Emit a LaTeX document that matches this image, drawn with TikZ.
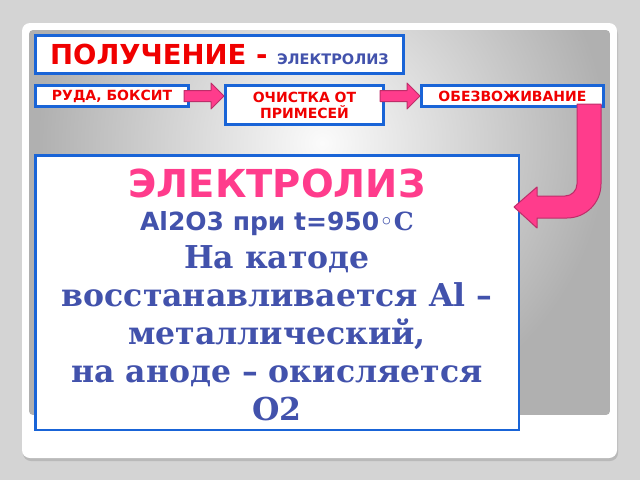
\documentclass[tikz,border=0pt]{standalone}
\usepackage{fontspec}
\setmainfont{DejaVu Serif}
\setsansfont{DejaVu Sans}
\usetikzlibrary{calc}
\usetikzlibrary{positioning}
\definecolor{boxblue}{RGB}{25,100,215}
\definecolor{titlered}{RGB}{240,0,0}
\definecolor{textblue}{RGB}{66,82,172}
\definecolor{arrowpink}{RGB}{255,60,140}
\definecolor{arrowrim}{RGB}{190,45,105}
\definecolor{backgray}{RGB}{212,212,212}
\tikzset{
  stepbox/.style={draw=boxblue, line width=3pt, fill=white, inner sep=0pt,
    font=\sffamily\bfseries\fontsize{14}{16}\selectfont, text=titlered, align=center},
  fatarrow/.style={fill=arrowpink, draw=arrowrim, line width=1pt, line join=round}
}
\newcommand{\pinkarrow}[2]{%
  \draw[fatarrow] let \p1=(#1), \p2=(#2) in
    (\x1,\y1-5.5pt) -- (\x2-13pt,\y1-5.5pt) -- (\x2-13pt,\y1-13pt) -- (\x2,\y1)
    -- (\x2-13pt,\y1+13pt) -- (\x2-13pt,\y1+5.5pt) -- (\x1,\y1+5.5pt) -- cycle;}

\begin{document}
\begin{tikzpicture}[x=1pt, y=-1pt]
    \useasboundingbox (0,0) rectangle (640,480);
    \fill[backgray] (0,0) rectangle (640,480);
    % card and shaded panel
    \fill[gray!55, rounded corners=8pt] (23,26) rectangle (618,461);
    \fill[white, rounded corners=8pt] (22,23) rectangle (617,458);
    \begin{scope}
        \clip[rounded corners=4pt] (29,30) rectangle (610,415);
        \fill[gray!62] (29,30) rectangle (610,415);
        \shade[inner color=gray!3, outer color=gray!62] (322,143) circle (285pt);
    \end{scope}

    \node[stepbox, anchor=north west, minimum width=368pt, minimum height=38pt] (title) at (34,34)
        {{\fontsize{27.5}{30}\selectfont ПОЛУЧЕНИЕ - }{\color{textblue}\fontsize{14.5}{16}\selectfont ЭЛЕКТРОЛИЗ}};
    \node[stepbox, below=9pt of title.south west, anchor=north west,
        minimum width=153pt, minimum height=21pt] (ruda) {РУДА, БОКСИТ};
    \node[stepbox, right=34pt of ruda.north east, anchor=north west,
        minimum width=158pt, minimum height=39pt] (ochistka) {ОЧИСТКА ОТ\\ПРИМЕСЕЙ};
    \node[stepbox, right=35pt of ochistka.north east, anchor=north west,
        minimum width=182pt, minimum height=21pt] (obez) {ОБЕЗВОЖИВАНИЕ};
    \node[stepbox, line width=2.5pt, below=46pt of ruda.south west, anchor=north west,
        minimum width=483.5pt, minimum height=274.5pt] (electro) {};

    \node[anchor=base, font=\sffamily\bfseries\fontsize{38.5}{44}\selectfont, text=arrowpink]
        (electrohead) at ($(electro.north)+(0,43)$) {ЭЛЕКТРОЛИЗ};
    \node[anchor=base, font=\sffamily\bfseries\fontsize{25}{28}\selectfont, text=textblue]
        (cond) at ($(electro.north)+(0,76)$) {Al2O3 при t=950{\rmfamily◦C}};
    \node[anchor=base, align=center, font=\rmfamily\bfseries\fontsize{31.5}{38}\selectfont, text=textblue]
        (cathode) at ($(electro.north)+(0,266)$)
        {На катоде\\восстанавливается Al –\\металлический,\\на аноде – окисляется\\O2};

    \pinkarrow{$(ruda.east)+(-6,0)$}{ochistka.west |- ruda.east}
    \pinkarrow{$(ochistka.east |- obez.west)+(-5,0)$}{obez.west}

    \coordinate (bendtop) at ($(obez.south east)+(-16,-4)$);
    \draw[fatarrow] (bendtop) ++(-12,0) -- ++(24,0) -- ++(0,80)
        arc[start angle=0, end angle=90, radius=34] -- ++(-30,0) -- ++(0,10)
        -- ++(-23,-21) -- ++(23,-20) -- ++(0,9) -- ++(28,0)
        arc[start angle=90, end angle=0, radius=12] -- cycle;
\end{tikzpicture}
\end{document}
